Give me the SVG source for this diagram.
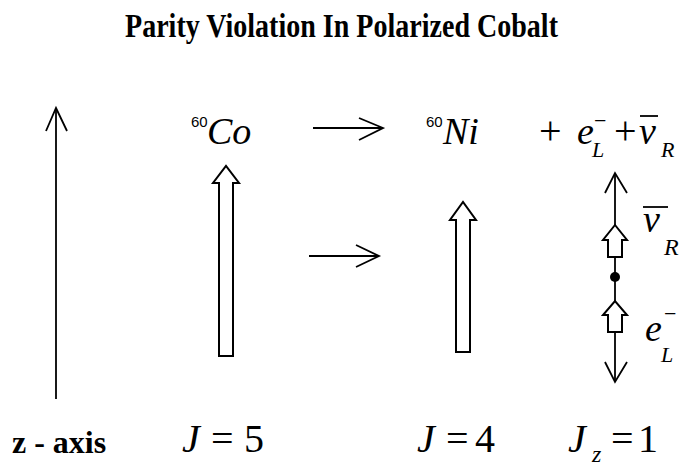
<svg xmlns="http://www.w3.org/2000/svg" width="683" height="466" viewBox="0 0 683 466">
<style>
.ln{stroke:#000;stroke-width:1.8;fill:none}
.hol{stroke:#000;stroke-width:2;fill:#fff}
</style>
<rect width="683" height="466" fill="#fff"/>
<g id="title">
<text x="341.5" y="37" font-family="Liberation Serif" font-size="34" font-weight="bold" text-anchor="middle" textLength="433" lengthAdjust="spacingAndGlyphs">Parity Violation In Polarized Cobalt</text>
</g>
<g id="connectors">
<g id="z-axis-arrow">
<line class="ln" x1="56" y1="109" x2="56" y2="399"/>
<polyline class="ln" points="46,131 56,108 67,131"/>
</g>
<g id="decay-arrow-top">
<line class="ln" x1="313" y1="128" x2="383" y2="128"/>
<polyline class="ln" points="359,118 383,128 359,140"/>
</g>
<g id="decay-arrow-mid">
<line class="ln" x1="309" y1="256" x2="379" y2="256"/>
<polyline class="ln" points="356,245 379,256 356,267"/>
</g>
<g id="lepton-axis">
<line class="ln" x1="615" y1="174" x2="615" y2="381"/>
<polyline class="ln" points="605,193 615,173 627,193"/>
<polyline class="ln" points="605,362 615,382 627,362"/>
</g>
</g>
<g id="cobalt" font-family="Liberation Serif">
<text font-family="Liberation Sans" font-size="15" x="191" y="127">60</text>
<text font-style="italic" font-size="38" x="207" y="144">Co</text>
<polygon class="hol" points="219,356 219,183 213,183 226,166 239,183 233,183 233,356"/>
<text font-style="italic" font-size="40" x="182" y="452">J</text>
<text font-size="40" x="211" y="452">=</text>
<text font-size="40" x="244" y="452">5</text>
</g>
<g id="nickel" font-family="Liberation Serif">
<text font-family="Liberation Sans" font-size="15" x="426" y="127">60</text>
<text font-style="italic" font-size="38" x="443" y="144">Ni</text>
<polygon class="hol" points="456,352 456,220 450,220 463,202 476,220 470,220 470,352"/>
<text font-style="italic" font-size="40" x="417" y="452">J</text>
<text font-size="40" x="446" y="452">=</text>
<text font-size="40" x="475" y="452">4</text>
</g>
<g id="leptons" font-family="Liberation Serif">
<text font-size="40" x="539" y="144">+</text>
<text font-style="italic" font-size="38" x="577" y="144">e</text>
<text font-size="22" x="594" y="128">−</text>
<text font-style="italic" font-size="22" x="592" y="157">L</text>
<text font-size="40" x="614" y="144">+</text>
<text font-style="italic" font-size="38" x="639" y="144">v</text>
<line class="ln" x1="640" y1="116" x2="658" y2="116"/>
<text font-style="italic" font-size="22" x="661" y="157">R</text>
</g>
<g id="antineutrino" font-family="Liberation Serif">
<polygon class="hol" points="608,257 608,240 603,240 615,225 627,240 622,240 622,257"/>
<line class="ln" x1="643" y1="207" x2="668" y2="207"/>
<text font-style="italic" font-size="38" x="643" y="232">v</text>
<text font-style="italic" font-size="24" x="664" y="255">R</text>
</g>
<g id="vertex">
<circle cx="615" cy="277" r="5" fill="#000"/>
</g>
<g id="electron" font-family="Liberation Serif">
<polygon class="hol" points="608,332 608,315 603,315 615,301 627,315 622,315 622,332"/>
<text font-style="italic" font-size="38" x="645" y="341">e</text>
<text font-size="22" x="664" y="321">−</text>
<text font-style="italic" font-size="22" x="661" y="362">L</text>
</g>
<g id="axis-label" font-family="Liberation Serif">
<text font-size="32" font-weight="bold" x="12" y="453">z - axis</text>
</g>
<g id="spin-label" font-family="Liberation Serif">
<text font-style="italic" font-size="40" x="568" y="452">J</text>
<text font-style="italic" font-size="24" x="592" y="462">z</text>
<text font-size="40" x="611" y="452">=</text>
<text font-size="40" x="638" y="452">1</text>
</g>
</svg>
